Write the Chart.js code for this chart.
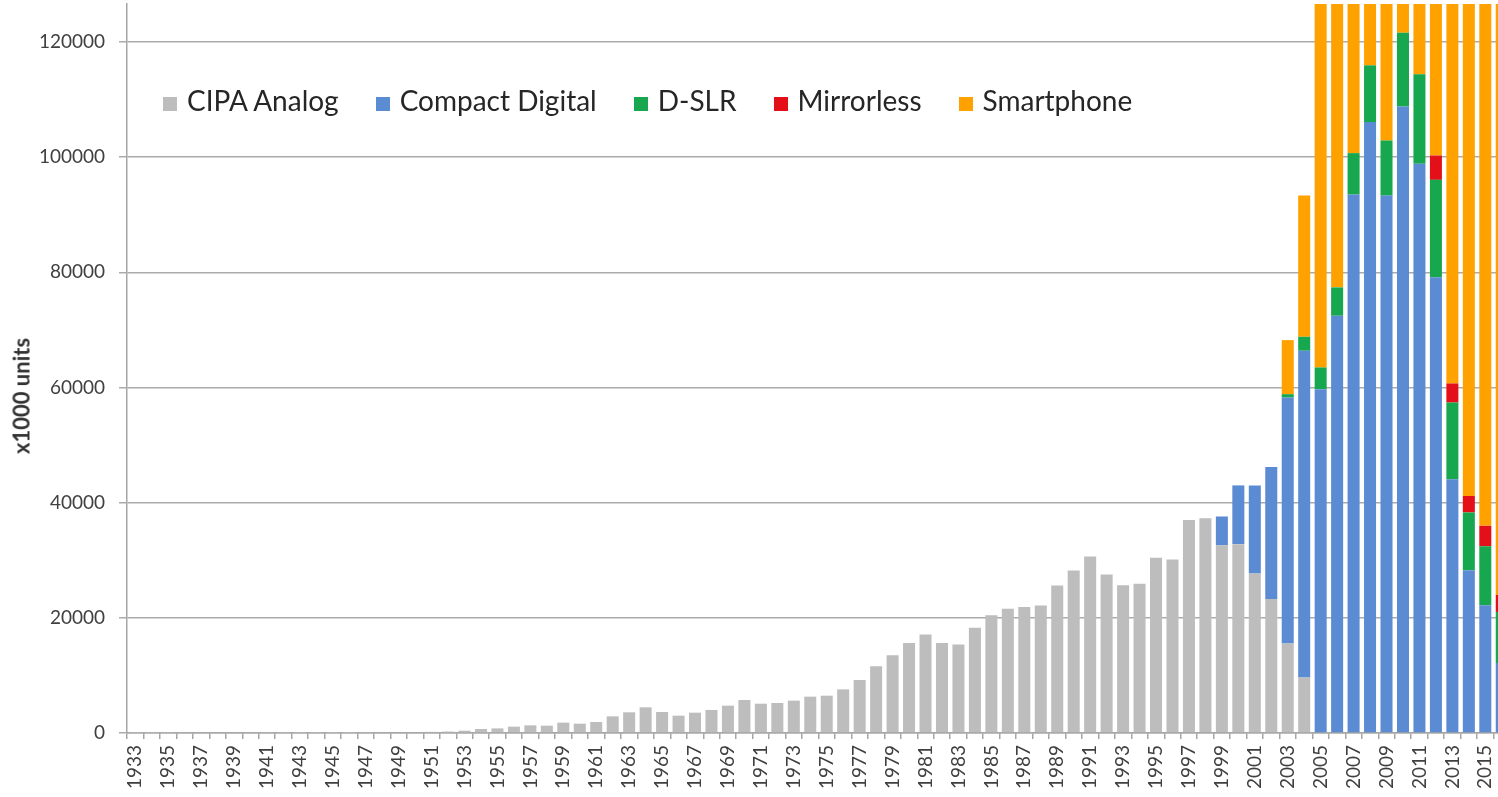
<!DOCTYPE html>
<html>
<head>
<meta charset="utf-8">
<script src="https://cdn.jsdelivr.net/npm/chart.js@4.4.0/dist/chart.umd.min.js"></script>
<style>
  html, body { margin: 0; padding: 0; background: #fff; overflow: hidden; }
  #wrap { position: relative; width: 1514px; height: 797px; }
  #chart { display: block; }
  #legend {
    position: absolute; left: 163px; top: 84px;
    display: flex; align-items: baseline;
    font-family: Lato, sans-serif; font-size: 28px; line-height: 1.2; color: #262626;
  }
  .item { display: flex; align-items: baseline; margin-right: 37px; }
  .swatch { width: 14px; height: 14px; margin-right: 10px; }
  #ytitle {
    position: absolute; left: 21px; top: 396px;
    transform: translate(-50%, -50%) rotate(-90deg);
    font: bold 22px Lato, sans-serif; color: #333; white-space: nowrap;
  }
</style>
</head>
<body>
<div id="wrap">
  <canvas id="chart" width="1514" height="797"></canvas>
  <div id="legend"></div>
  <div id="ytitle">x1000 units</div>
</div>
<script>
const YEARS = [
  '1933', '1934', '1935', '1936', '1937', '1938', '1939', '1940', '1941', '1942',
  '1943', '1944', '1945', '1946', '1947', '1948', '1949', '1950', '1951', '1952',
  '1953', '1954', '1955', '1956', '1957', '1958', '1959', '1960', '1961', '1962',
  '1963', '1964', '1965', '1966', '1967', '1968', '1969', '1970', '1971', '1972',
  '1973', '1974', '1975', '1976', '1977', '1978', '1979', '1980', '1981', '1982',
  '1983', '1984', '1985', '1986', '1987', '1988', '1989', '1990', '1991', '1992',
  '1993', '1994', '1995', '1996', '1997', '1998', '1999', '2000', '2001', '2002',
  '2003', '2004', '2005', '2006', '2007', '2008', '2009', '2010', '2011', '2012',
  '2013', '2014', '2015', '2016'
];

// x1000 units
const ANALOG = [
  40, 50, 60, 80, 100, 110, 100, 90, 60, 40,
  30, 20, 10, 30, 60, 90, 120, 150, 200, 250,
  400, 700, 800, 1100, 1330, 1270, 1800, 1620, 1910, 2890,
  3590, 4460, 3650, 3010, 3530, 4000, 4750, 5730, 5090, 5210,
  5620, 6310, 6480, 7580, 9200, 11600, 13500, 15650, 17100, 15650,
  15360, 18260, 20460, 21560, 21900, 22150, 25600, 28230, 30670, 27540,
  25680, 25900, 30430, 30140, 37000, 37300, 32600, 32800, 27700, 23250,
  15560, 9650
];
// 1999 onwards
const COMPACT = [
  5000, 10200, 15300, 22950, 42700, 56730, 59710, 72460, 93510, 106090,
  93330, 108810, 98840, 79130, 44060, 28280, 22190, 12160
];
// 2003 onwards
const DSLR = [580, 2430, 3770, 4930, 7190, 9850, 9570, 12810, 15540, 16930, 13330, 10020, 10240, 8860];
// 2012 onwards
const MIRRORLESS = [4230, 3310, 2860, 3550, 2950];
// 2003 onwards (2005+ run off the top of the chart)
const SMARTPHONE = [
  9390, 24520, 80000, 100000, 122000, 139000, 174000, 305000, 491000, 725000,
  1019000, 1301000, 1437000, 1470000
];

const SERIES_NAMES = ['CIPA Analog', 'Compact Digital', 'D-SLR', 'Mirrorless', 'Smartphone'];
const SERIES_COLORS = ['#bdbdbd', '#5b8bd3', '#17a74e', '#e3101a', '#ffa200'];
const Y_TICKS = [0, 20000, 40000, 60000, 80000, 100000, 120000];
const Y_MAX = 126600;

// line a series up with YEARS, starting at its first year
function fromYear(first, values) {
  const out = YEARS.map(() => null);
  const start = YEARS.indexOf(first);
  values.forEach((v, i) => { out[start + i] = v; });
  return out;
}

const seriesData = [
  fromYear('1933', ANALOG),
  fromYear('1999', COMPACT),
  fromYear('2003', DSLR),
  fromYear('2012', MIRRORLESS),
  fromYear('2003', SMARTPHONE)
];

const legendEl = document.getElementById('legend');
SERIES_NAMES.forEach((name, i) => {
  const item = document.createElement('div');
  item.className = 'item';
  item.innerHTML = `<span class="swatch" style="background:${SERIES_COLORS[i]}"></span><span>${name}</span>`;
  legendEl.appendChild(item);
});

const tickFont = { family: 'Lato, sans-serif', size: 19 };

function noPadding(scale) {
  scale.paddingTop = 0;
  scale.paddingBottom = 0;
  scale.paddingLeft = 0;
  scale.paddingRight = 0;
}

new Chart(document.getElementById('chart'), {
  type: 'bar',
  data: {
    labels: YEARS,
    datasets: SERIES_NAMES.map((name, i) => ({
      label: name,
      data: seriesData[i],
      backgroundColor: SERIES_COLORS[i],
      borderWidth: 0,
      barPercentage: 0.73,
      categoryPercentage: 1.0
    }))
  },
  options: {
    responsive: false,
    animation: false,
    layout: { padding: { top: 4, right: 4, left: 0, bottom: 0 } },
    plugins: {
      legend: { display: false },
      tooltip: { enabled: false }
    },
    scales: {
      x: {
        stacked: true,
        grid: {
          offset: true,
          drawOnChartArea: false,
          tickLength: 6,
          color: '#a6a6a6',
          lineWidth: 1.5
        },
        border: { color: '#a6a6a6', width: 1.5 },
        ticks: {
          autoSkip: false,
          minRotation: 90,
          maxRotation: 90,
          padding: 6,
          color: '#404040',
          font: tickFont,
          callback: (v, i) => (i % 2 === 0 ? YEARS[i] : '')
        },
        afterFit: (scale) => { scale.height = 64; noPadding(scale); }
      },
      y: {
        stacked: true,
        min: 0,
        max: Y_MAX,
        afterBuildTicks: (scale) => { scale.ticks = Y_TICKS.map((v) => ({ value: v })); },
        grid: {
          color: '#ababab',
          lineWidth: 1.5,
          tickLength: 8
        },
        border: { color: '#a6a6a6', width: 1.5 },
        ticks: {
          padding: 14,
          color: '#404040',
          font: tickFont,
          callback: (v) => String(v)
        },
        afterFit: (scale) => { scale.width = 127; noPadding(scale); }
      }
    }
  }
});
</script>
</body>
</html>
